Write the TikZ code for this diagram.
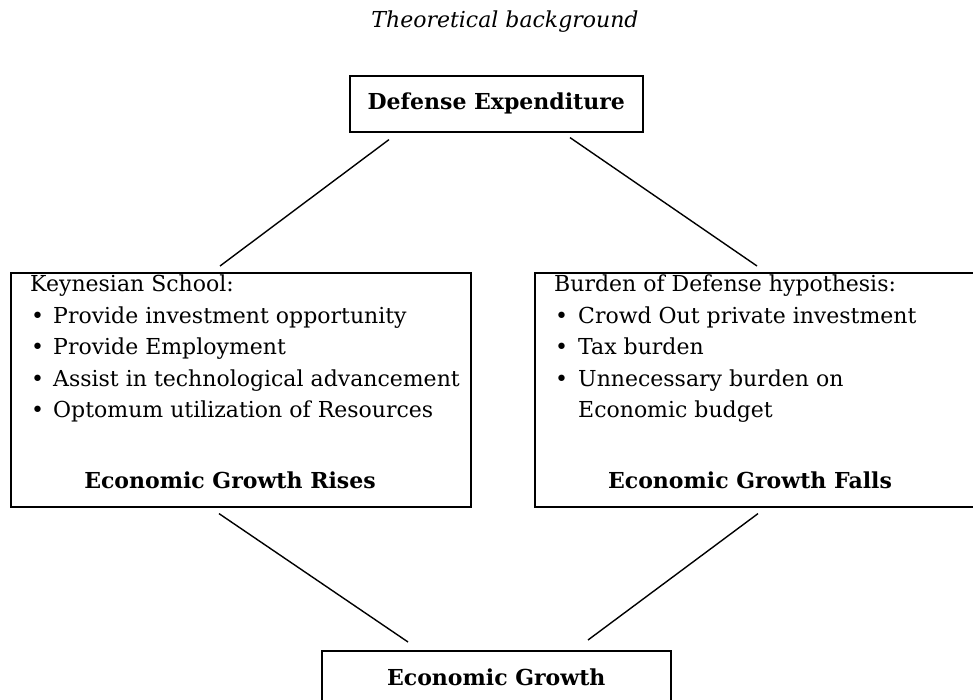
\documentclass[tikz,border=0pt]{standalone}
\usepackage{fontspec}
\setmainfont{DejaVu Serif}
\usetikzlibrary{calc}
\begin{document}
\begin{tikzpicture}[x=1pt,y=-1pt,
  frame/.style n args={2}{draw,line width=1.6pt,inner sep=0pt,minimum width=#1,minimum height=#2,anchor=north west},
  headbox/.style n args={2}{frame={#1}{#2},font=\fontsize{22}{26}\selectfont\bfseries,text height=16pt,text depth=5pt},
  txt/.style={anchor=base west,inner sep=0pt,font=\fontsize{22}{26}\selectfont},
  btxt/.style={anchor=base,inner sep=0pt,font=\fontsize{22}{26}\selectfont\bfseries},
  link/.style={line width=1.4pt}
]
\useasboundingbox (0,0) rectangle (973,700);
\clip (0,0) rectangle (973,700);

\node[anchor=base,inner sep=0pt,font=\fontsize{22}{26}\selectfont\itshape] (title) at (505,28) {Theoretical background};

\node[headbox={293pt}{56pt}] (de) at (349,75) {Defense Expenditure};
\node[frame={460pt}{234pt}] (lb) at (10,272) {};
\node[frame={460pt}{234pt}] (rb) at (534,272) {};
\node[headbox={349pt}{59pt}] (eg) at (321,650) {Economic Growth};

% left box text
\node[txt] (k0) at (30,291) {Keynesian School:};
\node[txt] (kb1) at (31,323) {•}; \node[txt] (k1) at (53,323) {Provide investment opportunity};
\node[txt] (kb2) at (31,354) {•}; \node[txt] (k2) at (53,354) {Provide Employment};
\node[txt] (kb3) at (31,386) {•}; \node[txt] (k3) at (53,386) {Assist in technological advancement};
\node[txt] (kb4) at (31,417) {•}; \node[txt] (k4) at (53,417) {Optomum utilization of Resources};
\node[btxt] (kr) at (230,488) {Economic Growth Rises};

% right box text
\node[txt] (b0) at (554,291) {Burden of Defense hypothesis:};
\node[txt] (bb1) at (555,323) {•}; \node[txt] (b1) at (578,323) {Crowd Out private investment};
\node[txt] (bb2) at (555,354) {•}; \node[txt] (b2) at (578,354) {Tax burden};
\node[txt] (bb3) at (555,386) {•}; \node[txt] (b3) at (578,386) {Unnecessary burden on};
\node[txt] (b4) at (578,417) {Economic budget};
\node[btxt] (bf) at (750,488) {Economic Growth Falls};

% connectors
\draw[link] ($(de.south west)+(40,7)$) -- ($(lb.north west)+(210,-6)$);
\draw[link] ($(de.south west)+(221,5)$) -- ($(rb.north west)+(223,-6)$);
\draw[link] ($(lb.south west)+(209,6)$) -- ($(eg.north west)+(87,-8)$);
\draw[link] ($(rb.south west)+(224,6)$) -- ($(eg.north west)+(267,-10)$);
\end{tikzpicture}
\end{document}
